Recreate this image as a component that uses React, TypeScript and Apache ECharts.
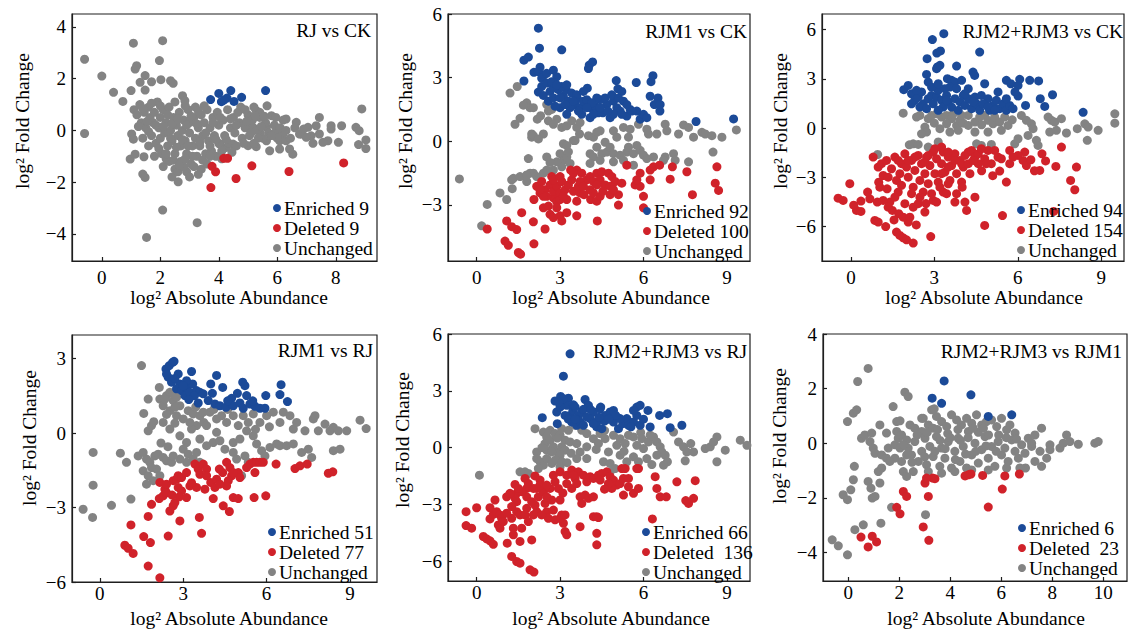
import React, { useEffect, useRef } from "react";
import * as echarts from "echarts";

const FONT = "Liberation Serif";
const BLUE = "#1b4a98";
const RED = "#d0222a";
const GRAY = "#838383";

// ---------- Panel titles / legend labels ----------
const titles = ["RJ vs CK", "RJM1 vs CK", "RJM2+RJM3 vs CK", "RJM1 vs RJ", "RJM2+RJM3 vs RJ", "RJM2+RJM3 vs RJM1"];
const enrichedLabels = ["Enriched 9", "Enriched 92", "Enriched 94", "Enriched 51", "Enriched 66", "Enriched 6"];
const deletedLabels = ["Deleted 9", "Deleted 100", "Deleted 154", "Deleted 77", "Deleted  136", "Deleted  23"];
const unchangedLabel = "Unchanged";

// ---------- Axis ticks ----------
const xTicks = [[0, 2, 4, 6, 8], [0, 3, 6, 9], [0, 3, 6, 9], [0, 3, 6, 9], [0, 3, 6, 9], [0, 2, 4, 6, 8, 10]];
const yTicks = [[-4, -2, 0, 2, 4], [-3, 0, 3, 6], [-6, -3, 0, 3, 6], [-6, -3, 0, 3], [-6, -3, 0, 3, 6], [-4, -2, 0, 2, 4]];
const xRanges = [[-1.02, 9.41], [-1.03, 9.83], [-1.04, 9.82], [-1.0, 9.97], [-1.03, 9.83], [-0.99, 10.93]];
const yRanges = [[-5.05, 4.5], [-5.65, 6], [-8.1, 6.95], [-6, 3.95], [-7.05, 6], [-5.05, 4]];

// ---------- Panel 1: RJ vs CK ----------
const p1Enriched = [[3.72,1.19],[4.0,1.43],[4.09,1.11],[4.41,1.54],[4.28,1.25],[4.52,1.12],[4.78,1.28],[5.6,1.54],[4.17,1.17]];
const p1Deleted = [[3.77,-1.39],[3.89,-1.6],[3.73,-2.21],[4.17,-1.08],[4.3,-1.08],[4.59,-1.86],[5.13,-1.37],[6.4,-1.59],[8.27,-1.26]];
const p1Unchanged = [
  [-0.59,2.75],[-0.59,-0.12],[0,2.1],[0.4,1.47],[0.72,1.12],[1.08,3.37],[2.08,3.47],[1.97,2.7],[1.14,2.37],[1.19,2.5],
  [1.31,1.86],[1.48,2.12],[1.7,1.88],[2.02,1.96],[2.44,1.82],[2.35,1.92],[1.0,1.54],[1.48,1.56],[1.02,-0.14],[1.08,-0.34],
  [0.97,-1.11],[1.14,-0.92],[1.44,-1.02],[1.4,-1.69],[1.48,-1.82],[2.61,-1.99],[2.08,-3.08],[3.26,-3.57],[1.53,-4.14],[2.76,1.34],
  [2.84,1.15],[5.65,0.95],[6.3,0.44],[6.65,0.31],[7.44,0.5],[8.89,0.83],[8.2,0.18],[8.69,0.12],[8.8,-0.01],[9.03,-0.37],
  [9.03,-0.7],[8.78,-0.55],[8.09,-0.46],[7.73,-0.4],[7.56,-0.46],[7.22,-0.5],[7.16,-0.21],[7.84,0.05],[7.84,0.18],[7.33,0.18],
  [7.05,0.12],[6.82,-0.14],[6.53,-0.92],[6.42,-0.72],[6.08,-0.72],[5.74,-0.79],[5.28,-0.63],[5.0,-0.59],[4.49,-0.53],[4.26,-0.66],
  [4.03,-0.53],[5.63,-0.4],[6.08,-0.4],[6.19,-0.14],[5.97,-0.01],[5.63,0.12],[5.4,-0.08],[5.17,0.12],[4.94,0.25],[5.28,0.76],
  [5.4,0.5],[5.8,0.57],[6.76,-0.14],[7.44,-0.14],[6.99,-0.27],[6.3,-0.4],
  [1.1,0.8],[1.2,0.6],[1.3,1.0],[1.35,0.3],[1.45,0.7],[1.5,0.1],[1.6,0.9],[1.65,0.5],[1.7,-0.2],[1.75,0.3],
  [1.8,0.7],[1.85,-0.5],[1.9,1.1],[1.95,0.1],[2.0,-0.3],[2.0,0.5],[2.05,-0.9],[2.1,0.8],[2.15,-0.1],[2.2,0.3],
  [2.25,-0.6],[2.3,-1.2],[2.3,0.9],[2.35,0.0],[2.4,-0.4],[2.45,0.5],[2.5,-0.9],[2.5,-1.5],[2.55,0.2],[2.6,-0.2],
  [2.65,0.7],[2.7,-0.6],[2.7,-1.2],[2.75,0.0],[2.8,0.4],[2.85,-0.4],[2.9,-0.9],[2.9,-1.6],[2.95,0.8],[3.0,-0.1],
  [3.0,0.3],[3.05,-1.3],[3.1,-0.6],[3.15,0.5],[3.2,-0.3],[3.2,0.9],[3.25,-1.0],[3.3,0.1],[3.35,-0.6],[3.4,-1.5],
  [3.4,0.6],[3.45,-0.2],[3.5,0.3],[3.55,-0.9],[3.6,-1.3],[3.6,0.8],[3.65,-0.4],[3.7,0.1],[3.75,-0.8],[3.8,0.5],
  [3.85,-0.2],[3.9,-1.0],[3.95,0.7],[4.0,-0.5],[4.0,0.2],[4.1,-0.8],[4.15,0.4],[4.2,-0.2],[4.3,0.8],[4.35,-0.5],
  [4.4,0.1],[4.5,0.5],[4.55,-0.1],[4.6,-0.6],[4.7,0.3],[4.75,0.9],[4.8,-0.3],[4.9,0.1],[5.0,0.6],[5.05,-0.2],
  [5.15,0.4],[5.2,-0.5],[5.3,0.0],[5.4,0.7],[5.5,-0.3],[5.6,0.3],[5.7,-0.1],[5.9,0.2],[6.0,-0.3],[6.1,0.1],
  [6.2,0.4],[1.6,-0.6],[1.4,-0.3],[1.8,-1.0],[2.1,-1.4],[2.4,-1.8],[2.6,-1.6],[2.2,-1.1],[2.8,-1.4],[3.3,-1.7],
  [3.0,-1.8],[1.25,0.15],[1.4,0.85],[1.55,0.35],[1.7,1.05],[1.85,0.2],[2.0,0.95],[2.1,0.15],[2.25,0.6],[2.4,0.25],
  [2.5,1.1],[2.6,0.45],[2.75,-0.35],[2.85,0.95],[2.95,-0.6],[3.05,0.55],[3.1,-1.0],[3.25,0.25],[3.35,-0.45],[3.5,0.95],
  [3.55,-0.1],[3.7,-0.6],[3.8,0.3],[3.9,-0.35],[4.05,0.5],[4.1,-1.1],[4.25,-0.35],[4.4,0.45],[4.45,-0.85],[4.6,0.2],
  [4.65,0.7],[4.85,-0.5],[4.95,0.35],[5.1,-0.1],[5.25,0.55],[5.35,-0.3],[5.45,0.15],[5.55,0.55],[5.8,-0.2],[5.95,0.5],
  [6.3,0.0],[6.45,-0.3],[6.6,0.1],[6.9,0.05],[2.2,-0.9],[2.45,-1.15],[2.65,-1.35],[2.85,-1.1],[3.15,-1.4],[3.45,-1.15],
  [3.7,-1.0],[2.55,-0.65],[2.35,-0.3],[1.95,-0.7],[1.6,-0.05],[2.9,0.2],[3.3,0.75],[4.9,0.8],[5.2,0.9]
];

// ---------- Panel 2: RJM1 vs CK ----------
const p2Enriched = [
  [2.22,5.33],[2.26,4.39],[3.06,4.31],[1.7,3.82],[1.86,3.97],[1.7,2.84],[2.06,3.25],[2.28,3.49],[2.22,3.28],[2.42,3.12],
  [2.34,2.97],[2.52,3.2],[2.76,3.35],[2.88,3.04],[4.05,3.59],[4.17,3.74],[4.02,3.43],[3.98,2.5],[5.02,2.86],[5.08,2.47],
  [5.74,2.77],[6.27,2.81],[6.34,3.09],[6.52,2.04],[6.39,1.73],[6.59,1.42],[6.6,1.73],[7.89,0.93],[9.24,1.05],
  [2.22,2.32],[2.4,2.16],[2.64,2.35],[2.76,2.53],[2.94,2.43],[3.0,1.58],[3.12,2.12],[3.22,2.43],[3.3,1.89],[3.42,2.27],
  [3.54,1.73],[3.62,2.01],[3.72,1.58],[3.84,1.89],[3.96,1.96],[4.08,1.58],[4.08,1.11],[4.26,1.65],[4.44,1.96],[4.54,1.34],
  [4.68,1.73],[4.8,1.11],[4.92,1.89],[5.04,1.58],[5.16,1.42],[5.28,1.89],[5.4,1.19],[5.52,1.5],[5.88,1.04],[6.0,1.27],
  [6.12,1.11],[6.24,2.12],[5.76,1.42],[2.58,1.89],[2.76,2.04],[3.06,2.58],[3.36,1.58],[3.24,1.27],[3.78,1.27],[4.38,1.34],
  [4.62,2.04],[4.86,2.19],[5.22,2.35],[5.1,2.04],[4.32,2.04],[4.14,1.81],[3.6,2.19],[3.48,1.89],[3.96,1.58],[4.92,1.27],
  [4.44,1.58],[4.72,1.42],[5.22,1.27],[3.0,2.04],[2.82,1.65],[3.18,1.73],[3.66,1.42],[4.2,1.27],[3.84,2.35],[5.4,1.73],
  [5.58,1.42],[2.34,2.58],[2.52,2.74],[2.7,2.81],[2.88,2.66],[3.24,2.66]
];
const p2Deleted = [
  [0.38,-4.14],[1.08,-3.76],[1.02,-4.71],[1.14,-4.91],[1.26,-4.03],[1.44,-4.17],[1.5,-5.25],[1.58,-5.33],[1.62,-3.37],[2.04,-3.8],
  [2.06,-4.84],[2.06,-2.75],[2.46,-4.14],[2.4,-3.14],[2.64,-3.45],[2.76,-2.67],[2.88,-2.86],[3.0,-2.75],[3.06,-3.76],[3.0,-3.52],
  [3.24,-3.37],[3.6,-3.52],[3.6,-2.83],[3.72,-2.44],[4.1,-2.75],[4.32,-2.83],[4.34,-3.76],[4.44,-2.6],[4.8,-2.52],[5.1,-3.01],
  [5.1,-2.52],[5.4,-1.13],[5.7,-2.06],[6.0,-2.6],[6.0,-3.14],[5.88,-1.51],[6.24,-1.36],[6.36,-1.21],[6.58,-1.13],[6.24,-1.82],
  [6.96,-1.79],[7.04,-1.21],[7.56,-1.44],[7.76,-2.52],[8.64,-1.21],[8.58,-1.98],[8.7,-2.32],[5.88,-2.13],
  [2.16,-2.13],[2.28,-2.44],[2.34,-1.9],[2.46,-2.29],[2.52,-2.6],[2.64,-2.06],[2.7,-1.67],[2.76,-2.36],[2.88,-2.13],[3.0,-2.44],
  [3.06,-1.9],[3.18,-2.29],[3.3,-2.06],[3.42,-1.82],[3.48,-2.36],[3.6,-1.36],[3.66,-2.13],[3.78,-1.51],[3.86,-2.52],[3.96,-1.82],
  [4.08,-1.67],[4.2,-1.9],[4.32,-1.51],[4.44,-1.82],[4.5,-1.44],[4.62,-2.06],[4.74,-1.51],[4.86,-1.67],[4.98,-1.9],[4.8,-2.13],
  [3.48,-1.51],[3.72,-1.9],[2.76,-1.82],[3.0,-1.67],[3.24,-2.75],[4.08,-2.29],[3.12,-2.6],[2.4,-2.6],[2.58,-3.06],[2.88,-3.14],
  [2.76,-3.6],[2.28,-2.29],[4.2,-2.44],[4.54,-2.36],[3.84,-2.13],[4.32,-2.06],[4.92,-2.29],[5.22,-1.98],[5.76,-1.82],[3.38,-1.36]
];
const p2Unchanged = [
  [-0.62,-1.78],[0.18,-3.99],[0.38,-2.98],[0.84,-2.44],[1.08,-2.75],[1.28,-2.24],[1.32,-1.75],[1.26,-1.82],[1.2,2.27],[1.46,2.58],
  [1.38,0.8],[1.56,1.08],[1.8,1.81],[1.92,1.58],[2.04,1.58],[1.98,0.34],[1.98,0.19],[2.18,1.04],[2.4,0.34],[2.52,1.73],
  [2.58,1.42],[2.88,1.04],[3.06,0.65],[3.24,0.73],[3.42,0.96],[3.6,0.65],[3.72,0.88],[3.7,0.34],[3.12,-0.12],[3.24,-0.2],
  [3.48,0.03],[4.2,0.19],[4.32,0.42],[4.44,0.49],[4.62,-0.05],[4.92,0.49],[5.04,0.19],[5.28,0.65],[5.46,0.19],[5.52,0.57],
  [5.82,0.8],[6.12,0.57],[6.18,0.34],[6.48,0.34],[6.78,0.8],[6.84,0.49],[7.26,0.34],[7.44,0.77],[7.62,0.65],[7.8,0.19],
  [8.1,0.42],[8.22,0.34],[8.46,0.26],[8.5,-0.51],[8.82,0.19],[9.34,0.53],[7.08,-0.59],[7.14,-0.9],[7.62,-0.97],[6.78,-0.74],
  [6.72,-0.9],[4.08,-0.59],[4.2,-0.74],[4.32,-0.28],[4.5,-0.59],[4.68,-0.51],[4.92,-0.59],[5.16,-0.66],[5.4,-0.51],[5.64,-0.59],
  [5.88,-0.43],[6.0,-0.66],[6.12,-0.82],[4.08,-1.05],[4.44,-0.9],[4.92,-0.97],[5.28,-0.9],[5.64,-1.13],[3.0,-0.59],[3.12,-0.9],
  [3.24,-0.74],[3.36,-1.05],[3.06,-1.21],[2.76,-1.36],[2.52,-1.36],[2.4,-1.51],[2.16,-1.67],[2.04,-1.51],[1.8,-1.9],[1.56,-1.67],
  [1.86,-0.82],[2.52,-0.74],[2.88,-0.97],[1.92,-1.51],[1.8,-1.59],[2.04,0.26],[2.22,0.11],[2.58,0.96],[2.76,0.8],[3.54,0.03],
  [4.02,0.26],[4.8,-0.28],[5.46,-0.28],[5.76,-0.2],[6.36,-0.74],[2.7,1.5],[1.68,1.7],[2.3,1.2],[3.3,-0.5],[2.64,-1.0]
];

// ---------- Panel 3: RJM2+RJM3 vs CK ----------
const p3Enriched = [
  [2.93,5.39],[3.34,5.75],[3.09,4.57],[3.22,4.7],[4.63,4.63],[2.74,4.23],[3.08,3.62],[3.2,3.82],[3.11,3.72],[3.8,3.78],
  [4.39,3.41],[4.45,3.21],[2.72,3.27],[1.9,2.34],[2.06,2.6],[2.78,2.8],[3.47,3.01],[3.62,2.91],[3.74,2.8],[3.56,2.5],
  [3.98,2.91],[4.81,2.7],[5.29,2.2],[5.59,2.91],[5.75,2.7],[6.07,2.97],[6.01,2.6],[6.43,2.91],[6.75,2.87],[6.01,1.95],
  [6.28,1.38],[6.81,1.79],[6.97,1.32],[7.25,2.03],[8.35,0.96],
  [2.18,2.09],[2.3,1.69],[2.42,1.89],[2.54,2.2],[2.6,1.48],[2.78,1.79],[2.9,1.99],[2.96,1.48],[3.08,1.89],[3.14,2.3],
  [3.26,1.69],[3.32,1.28],[3.44,1.99],[3.5,1.59],[3.62,1.28],[3.74,1.79],[3.8,2.4],[3.92,1.59],[4.04,1.99],[4.1,1.38],
  [4.22,1.79],[4.34,1.18],[4.46,1.89],[4.52,1.48],[4.63,1.08],[4.69,1.99],[4.81,1.48],[4.93,1.79],[4.99,1.08],[5.11,1.38],
  [5.23,1.69],[5.35,1.18],[5.47,1.48],[5.59,1.08],[5.71,1.38],[5.83,1.18],[5.59,1.79],[2.18,1.48],[2.48,1.28],[2.72,1.18],
  [3.14,1.08],[3.38,2.4],[4.22,2.4],[2.9,2.5],[3.14,2.7],[3.86,1.08],[4.75,1.48],[4.93,1.28],[5.17,1.08],[3.44,1.69],
  [4.4,1.59],[2.36,2.3],[4.1,2.09],[5.9,2.2]
];
const p3Deleted = [
  [-0.46,-4.27],[-0.28,-4.41],[-0.04,-3.39],[0.2,-5.02],[0.36,-5.08],[0.36,-4.45],[0.68,-4.31],[0.86,-5.63],[0.98,-5.73],[0.95,-4.51],
  [1.04,-3.6],[1.25,-6.0],[1.34,-4.82],[1.49,-5.02],[1.4,-4.51],[1.64,-6.34],[1.76,-6.54],[1.88,-6.69],[2.0,-6.81],[2.24,-7.01],
  [2.87,-6.61],[2.06,-5.73],[1.72,-5.22],[1.88,-5.43],[2.12,-5.43],[2.24,-4.82],[2.42,-4.61],[2.66,-5.12],[2.96,-4.41],[3.08,-4.51],
  [3.32,-3.9],[3.44,-4.0],[3.74,-4.51],[4.1,-4.51],[4.16,-5.02],[4.46,-4.21],[4.81,-5.93],[5.45,-5.33],[7.29,-5.08],[6.25,-1.46],
  [6.19,-1.97],[6.31,-2.28],[6.47,-1.93],[6.79,-2.58],[6.87,-1.57],[7.37,-2.34],[7.57,-1.16],[7.9,-3.19],[8.05,-3.76],[8.11,-2.38],
  [5.59,-3.29],[5.71,-1.36],[5.71,-2.17],[5.35,-2.62],[5.29,-1.77],[6.01,-1.67],[4.93,-1.36],[5.05,-2.17],
  [0.8,-1.77],[0.98,-2.38],[1.16,-2.89],[1.1,-2.17],[1.28,-1.97],[1.46,-2.48],[1.58,-1.77],[1.64,-3.19],[1.76,-2.78],[1.82,-2.17],
  [1.94,-1.57],[2.0,-2.38],[2.06,-2.99],[2.18,-1.97],[2.24,-3.6],[2.3,-2.58],[2.42,-1.67],[2.48,-3.19],[2.54,-2.17],[2.6,-3.9],
  [2.66,-2.78],[2.72,-1.77],[2.78,-3.39],[2.84,-2.28],[2.96,-1.46],[3.02,-2.78],[3.08,-1.87],[3.14,-3.29],[3.26,-2.17],[3.32,-1.46],
  [3.38,-2.68],[3.5,-1.77],[3.56,-3.19],[3.62,-2.28],[3.74,-1.57],[3.8,-2.78],[3.92,-1.97],[3.98,-3.29],[4.04,-2.38],[4.1,-1.67],
  [4.22,-1.46],[4.34,-1.36],[4.46,-1.77],[4.58,-1.57],[4.69,-1.26],[4.81,-1.87],[4.87,-2.17],[3.26,-2.78],[3.74,-1.97],[3.5,-2.38],
  [3.98,-2.17],[2.66,-2.07],[2.3,-1.77],[2.06,-1.97],[1.7,-1.97],[1.34,-2.99],[1.82,-3.49],[2.18,-4.0],[1.7,-3.9],[2.48,-4.21],
  [1.94,-4.61],[1.58,-4.21],[1.16,-4.41],[2.9,-4.0],[3.2,-3.6],[3.8,-4.0],[4.28,-2.78],[4.58,-2.17],[5.17,-1.36],[5.41,-1.87],
  [5.83,-1.77],[3.26,-1.16],[3.5,-1.46],[3.02,-1.26],[2.78,-1.67],[4.22,-2.17],[4.4,-1.97],[1.0,-3.3],[0.6,-3.9],[1.3,-3.7],
  [2.7,-4.6],[3.5,-3.4],[4.7,-2.6],[5.1,-2.9],[6.6,-2.6],[7.0,-2.0],[4.0,-3.6],[0.1,-4.7],[1.55,-5.6],[2.35,-5.9]
];
const p3Unchanged = [
  [0.96,-1.61],[1.88,0.91],[2.1,-1.02],[2.24,-0.96],[2.42,-1.0],[2.48,0.77],[2.66,0.06],[2.72,-0.24],[2.78,0.57],[2.9,0.77],
  [3.08,0.87],[3.26,0.67],[3.44,0.77],[3.62,0.57],[3.2,-0.04],[3.44,0.26],[3.56,-0.24],[2.78,-1.16],[3.14,-0.85],[3.8,0.16],
  [3.92,0.47],[4.04,0.3],[4.22,0.16],[3.86,-0.14],[4.46,0.37],[4.63,0.67],[4.81,0.77],[4.93,0.47],[5.11,0.26],[5.17,0.67],
  [5.35,0.37],[5.53,0.67],[5.65,0.16],[4.52,-0.96],[4.69,-1.06],[5.05,-1.0],[5.89,-0.96],[6.01,-0.65],[6.13,0.77],[6.31,0.47],
  [6.49,0.26],[6.37,-0.45],[6.55,-0.04],[6.67,-0.75],[6.73,-1.06],[7.09,0.67],[7.21,0.47],[7.33,0.37],[7.15,-0.24],[7.39,-0.14],
  [7.75,-0.3],[7.57,0.57],[8.14,-0.04],[8.41,0.26],[8.53,0.06],[8.5,-0.75],[8.89,-0.14],[9.49,0.87],[9.49,0.3],[4.22,0.77],
  [3.98,0.77],[3.68,0.87],[4.93,-0.24],[5.41,-0.14],[4.46,-0.24],[2.54,-0.35],[2.36,0.67],[3.0,0.3],[5.8,0.5],[4.7,0.2]
];

// ---------- Panel 4: RJM1 vs RJ ----------
const p4Enriched = [
  [2.38,2.58],[2.5,2.72],[2.62,2.85],[2.67,2.89],[2.46,2.25],[2.4,2.38],[2.58,2.05],[2.82,2.38],[2.88,1.98],[3.3,2.48],
  [2.76,1.78],[2.94,1.71],[3.06,1.51],[3.12,1.84],[3.24,1.64],[3.34,1.98],[3.48,1.71],[3.6,1.64],[3.72,1.58],[3.54,1.21],
  [3.99,1.98],[4.2,2.32],[4.42,1.84],[3.9,1.31],[4.14,1.17],[4.32,1.1],[4.54,1.04],[4.74,1.4],[4.8,1.1],[5.04,1.21],
  [5.16,1.0],[5.14,2.05],[5.22,1.91],[5.28,1.51],[5.4,1.17],[5.58,1.08],[5.76,1.0],[5.94,1.0],[5.97,1.51],[6.52,1.95],
  [6.48,1.55],[6.75,1.27],[3.12,2.11],[3.0,1.91],[3.4,1.5],[2.7,2.2],[4.6,1.3],[3.2,1.35],[4.05,1.6],[4.95,1.6],[5.5,1.3]
];
const p4Deleted = [
  [2.16,-5.83],[1.74,-5.36],[0.9,-4.52],[1.02,-4.64],[1.2,-4.85],[1.12,-3.7],[1.58,-4.17],[1.82,-4.41],[1.74,-3.36],[1.86,-2.87],
  [2.46,-4.15],[2.52,-3.14],[2.64,-2.93],[2.7,-2.8],[2.88,-3.54],[2.14,-2.64],[2.28,-2.53],[2.16,-1.99],[2.34,-2.26],[2.4,-2.4],
  [2.64,-1.92],[2.76,-1.86],[2.82,-1.72],[2.94,-1.79],[2.82,-2.19],[2.94,-2.33],[2.86,-2.57],[3.12,-2.6],[3.24,-2.13],[3.48,-2.19],
  [3.78,-2.26],[3.58,-3.4],[3.66,-4.04],[3.42,-1.25],[3.54,-1.45],[3.6,-1.66],[3.72,-1.25],[3.84,-1.45],[3.99,-1.99],[4.14,-2.19],
  [4.08,-2.64],[4.3,-1.45],[4.42,-1.59],[4.56,-1.18],[4.68,-1.39],[4.74,-1.72],[4.62,-1.92],[4.56,-2.13],[4.44,-2.93],[4.66,-3.16],
  [4.8,-2.6],[4.98,-2.64],[4.98,-1.59],[5.04,-1.79],[5.28,-1.39],[5.4,-1.25],[5.52,-1.18],[5.64,-1.18],[5.76,-1.18],[5.88,-1.18],
  [5.58,-1.59],[5.55,-2.6],[5.97,-2.53],[6.34,-1.25],[7.02,-1.43],[7.2,-1.32],[7.46,-1.25],[8.22,-1.62],[8.38,-1.56],[4.2,-1.86],
  [4.32,-2.06],[3.12,-1.59],[2.4,-2.06],[3.84,-1.72],[4.8,-1.59],[2.6,-2.5],[3.3,-2.0]
];
const p4Unchanged = [
  [1.5,2.72],[2.14,1.84],[1.74,1.37],[1.58,0.79],[1.74,0.09],[1.86,0.3],[1.94,0.46],[-0.24,-0.78],[0.74,-0.81],[0.96,-1.18],
  [-0.24,-2.1],[-0.6,-3.07],[-0.26,-3.4],[0.42,-2.91],[1.12,-2.66],[1.38,-0.92],[1.56,-0.78],[1.68,-1.05],[1.8,-1.18],[1.98,-0.92],
  [2.1,-0.85],[2.28,-0.98],[2.4,-1.12],[2.58,-1.18],[1.56,-1.52],[1.74,-1.72],[1.92,-1.92],[2.04,-1.45],[2.16,-1.72],[1.68,-2.06],
  [1.86,-1.39],[2.16,1.37],[2.28,1.1],[2.4,1.51],[2.52,0.9],[2.64,1.31],[2.76,0.7],[2.88,1.1],[3.0,0.57],[3.18,0.9],
  [3.36,0.77],[3.48,0.3],[3.6,0.7],[3.74,0.43],[3.96,0.84],[4.2,0.57],[4.38,0.7],[4.56,0.43],[4.8,0.7],[4.98,0.3],
  [5.16,0.7],[5.34,0.43],[5.52,0.77],[5.76,0.43],[6.0,0.7],[6.24,0.84],[6.48,0.43],[2.28,0.43],[2.52,0.16],[2.88,-0.11],
  [3.12,-0.38],[3.3,0.16],[3.6,-0.24],[3.84,-0.51],[4.08,-0.38],[4.32,-0.31],[4.5,-0.65],[4.8,-0.38],[5.04,-0.24],[5.28,0.09],
  [5.52,-0.11],[5.64,-0.44],[5.82,-0.71],[5.94,-0.92],[6.12,-0.58],[6.36,-0.44],[3.0,-0.65],[3.18,-0.85],[3.36,-1.05],[3.48,-0.78],
  [3.12,-1.18],[2.88,-1.05],[2.64,-0.92],[3.6,-1.18],[4.8,-0.78],[4.92,-1.05],[5.22,-0.92],[5.34,-1.18],[5.1,-1.72],[6.6,0.84],
  [6.84,0.7],[6.96,0.16],[7.08,0.43],[7.38,0.09],[7.68,0.57],[7.74,0.7],[7.86,0.09],[8.1,0.36],[8.28,0.09],[8.4,0.23],
  [8.58,0.09],[8.88,0.09],[9.36,0.52],[9.58,0.18],[6.48,-0.51],[6.72,-0.51],[6.96,-0.44],[7.26,-0.78],[7.5,-0.65],[7.62,-0.98],
  [8.4,-0.71],[8.64,-0.65],[2.34,1.37],[2.52,1.64],[2.64,1.58],[2.76,1.44],[2.7,1.04],[3.84,0.3],[4.2,0.03],[3.72,0.84],
  [3.24,0.43],[2.4,0.75],[2.7,0.4],[3.45,1.05],[4.6,0.95],[5.6,0.15],[6.1,0.25],[4.1,0.95],[2.2,-0.4],[2.45,-0.55]
];

// ---------- Panel 5: RJM2+RJM3 vs RJ ----------
const p5Enriched = [
  [3.36,4.95],[3.12,3.77],[2.36,1.58],[2.82,2.46],[2.88,1.88],[2.9,1.26],[3.02,2.7],[3.12,2.26],[3.3,2.61],[3.24,2.23],
  [3.36,1.7],[3.46,1.96],[3.42,1.35],[3.6,1.18],[3.72,1.35],[3.66,1.7],[3.78,1.88],[3.54,2.14],[3.48,2.26],[3.9,2.54],
  [4.02,2.23],[4.2,1.88],[4.08,1.53],[4.32,1.35],[4.44,2.05],[4.46,2.14],[4.62,1.7],[4.8,1.88],[4.92,1.96],[4.32,1.09],
  [4.5,1.0],[4.2,1.26],[5.1,1.0],[5.26,1.26],[5.4,1.53],[5.46,1.18],[5.64,1.35],[5.76,1.7],[5.76,2.14],[5.88,2.23],
  [5.64,1.96],[5.88,1.18],[6.16,1.96],[6.24,1.09],[6.58,1.7],[6.86,1.79],[6.96,1.05],[7.38,1.18],[3.84,2.02],[3.96,1.61],
  [4.92,1.35],[5.16,1.53],[3.84,1.18],[3.18,1.7],[3.12,2.58],[3.0,2.14],[4.6,1.4],[5.0,1.7],[3.3,1.5],[4.1,2.0],
  [5.55,1.1],[4.75,1.5],[6.0,1.5],[3.55,1.5],[4.4,1.6],[2.95,2.4]
];
const p5Deleted = [
  [-0.38,-3.39],[-0.38,-4.12],[-0.18,-4.26],[0.0,-3.18],[0.24,-4.7],[0.36,-4.82],[0.48,-4.93],[0.6,-5.11],[0.48,-3.77],[0.6,-3.53],
  [0.48,-3.18],[0.66,-2.77],[0.72,-3.39],[0.84,-3.56],[0.9,-3.74],[0.78,-4.09],[0.84,-4.26],[1.08,-2.6],[1.1,-5.05],[1.26,-3.74],
  [1.32,-4.26],[1.32,-4.61],[1.26,-5.75],[1.44,-6.02],[1.56,-6.11],[1.38,-1.95],[1.44,-2.42],[1.38,-2.68],[1.44,-3.39],[1.56,-3.56],
  [1.56,-4.96],[1.98,-4.88],[1.92,-6.46],[2.06,-6.58],[1.74,-1.63],[1.8,-2.16],[1.8,-2.6],[1.8,-3.21],[1.74,-3.56],[2.04,-3.56],
  [2.16,-3.39],[2.1,-3.04],[2.22,-2.6],[2.28,-1.72],[2.4,-2.33],[2.46,-2.95],[2.52,-3.39],[2.58,-3.74],[2.64,-2.16],[2.7,-2.77],
  [2.76,-3.3],[2.82,-1.81],[2.94,-2.16],[3.0,-2.77],[3.06,-3.56],[3.12,-4.0],[3.18,-4.44],[3.24,-4.61],[3.0,-3.74],[3.0,-1.28],
  [3.24,-1.46],[3.42,-1.19],[3.54,-1.63],[3.66,-1.28],[3.84,-1.46],[3.96,-1.81],[4.08,-1.54],[4.2,-1.63],[4.38,-1.46],[4.5,-1.37],
  [4.68,-1.28],[4.8,-1.54],[4.92,-1.72],[5.04,-1.98],[5.16,-1.9],[5.28,-1.63],[5.46,-1.63],[5.22,-1.11],[5.34,-1.11],[5.76,-1.11],
  [5.82,-1.11],[3.42,-2.16],[3.6,-1.9],[3.72,-2.6],[3.78,-2.95],[3.9,-2.51],[4.02,-2.68],[4.2,-2.6],[3.72,-4.18],[4.2,-3.65],
  [4.32,-3.65],[4.38,-3.7],[4.32,-4.53],[4.32,-5.14],[5.28,-2.51],[5.64,-2.42],[5.82,-2.16],[6.32,-3.77],[6.42,-1.54],[6.48,-2.16],
  [6.6,-2.6],[6.82,-2.6],[7.2,-1.81],[7.62,-2.95],[7.8,-2.68],[7.86,-1.75],[7.52,-2.8],[2.28,-1.98],[2.52,-1.98],[2.76,-1.46],
  [3.24,-1.9],[3.48,-1.46],[2.16,-2.16],[2.52,-2.6],[1.98,-2.86],[1.86,-1.9],[1.62,-2.33],[1.44,-2.86],[2.04,-2.16],[1.5,-2.16],
  [1.2,-2.42],[4.86,-2.16],[4.74,-1.9],[4.44,-1.72],[5.46,-2.07],[1.26,-3.12],[1.08,-3.47],[0.96,-3.91],[1.62,-4.26],[1.86,-3.91],
  [2.34,-3.56],[2.82,-3.82],[3.18,-3.56],[2.1,-1.5],[3.1,-2.4],[4.6,-2.2]
];
const p5Unchanged = [
  [0.1,-1.46],[1.56,-1.28],[1.74,-1.28],[1.86,-1.37],[2.1,1.0],[2.4,0.82],[2.52,0.56],[2.64,0.91],[2.82,0.74],[3.0,0.65],
  [3.06,1.0],[3.18,0.39],[3.3,0.91],[3.54,1.18],[2.46,0.21],[2.64,0.39],[2.76,0.04],[2.88,-0.23],[3.06,0.04],[3.18,-0.14],
  [3.36,0.3],[3.6,0.21],[2.52,-0.14],[2.7,-0.23],[3.0,-0.4],[2.16,-0.23],[2.16,-0.58],[2.28,-0.75],[2.4,-0.93],[2.52,-0.58],
  [2.7,-0.84],[2.82,-0.67],[3.0,-1.02],[2.22,-1.11],[3.06,-0.75],[3.78,0.91],[3.96,0.74],[4.2,0.47],[4.38,0.21],[4.44,0.74],
  [4.62,0.47],[4.74,-0.23],[4.92,0.65],[5.04,0.12],[5.16,0.47],[5.34,0.21],[5.46,0.65],[5.64,0.56],[5.76,0.12],[5.94,0.47],
  [6.0,-0.05],[6.18,0.3],[6.24,0.65],[6.36,0.56],[6.48,0.3],[6.6,0.04],[6.66,-0.23],[6.78,-0.4],[6.86,-0.75],[3.96,-0.58],
  [4.56,-0.75],[4.8,-0.84],[5.16,-0.4],[5.4,-0.75],[5.64,-0.49],[5.82,-0.75],[6.12,-0.58],[6.48,-0.4],[6.72,-0.93],[7.08,0.82],
  [7.26,0.3],[7.44,0.04],[7.56,-0.23],[7.7,0.21],[7.5,-0.7],[7.8,-0.23],[8.22,-0.05],[8.4,0.04],[8.52,0.3],[8.64,0.56],
  [8.64,-0.75],[8.94,-0.14],[9.48,0.39],[9.72,0.12],[3.96,0.04],[3.72,-0.23],[3.6,-0.58],[4.8,-1.28],[4.98,-1.11],[2.9,0.5],
  [3.4,-0.3],[4.3,-0.1],[5.3,-0.2],[2.35,0.0],[4.6,0.9],[5.9,0.8],[3.25,-0.8],[6.3,-0.9]
];

// ---------- Panel 6: RJM2+RJM3 vs RJM1 ----------
const p6Enriched = [[3.29,1.65],[3.66,1.46],[3.76,2.28],[4.81,1.77],[5.49,0.98],[6.41,1.04]];
const p6Deleted = [
  [0.5,-3.44],[0.78,-3.8],[0.94,-3.41],[1.11,-3.62],[1.9,-2.35],[2.03,-2.59],[2.16,-1.77],[2.29,-1.95],[3.01,-1.46],[3.14,-1.95],
  [2.94,-3.07],[3.16,-3.56],[3.31,-1.28],[3.4,-1.3],[4.58,-1.2],[4.71,-1.16],[4.81,-1.13],[5.27,-1.18],[5.49,-2.34],[6.04,-1.68],
  [6.14,-1.2],[6.71,-1.13],[3.07,-1.28]
];
const p6Unchanged = [
  [0.78,2.74],[0.37,2.26],[0.2,1.1],[0.33,1.22],[-0.03,0.79],[0.24,-0.85],[0.2,-1.34],[0.1,-1.71],[-0.2,-1.89],[-0.03,-2.07],
  [0.26,-3.17],[0.59,-2.99],[-0.63,-3.54],[-0.39,-3.76],[-0.03,-4.09],[1.28,-2.93],[1.7,-2.35],[3.03,-2.62],[0.78,-1.4],[0.89,-1.65],
  [0.94,-2.01],[1.05,-1.95],[1.18,-1.04],[1.31,-0.91],[1.24,-1.46],[1.76,1.34],[1.9,0.79],[2.03,0.82],[2.22,1.87],[2.35,1.71],
  [1.24,0.67],[1.5,0.37],[1.9,0.43],[0.52,0.18],[0.65,0.3],[0.85,0.06],[0.98,-0.18],[1.05,-0.37],[1.31,-0.43],[1.5,-0.55],
  [1.57,-0.18],[1.83,-0.06],[2.03,-0.18],[0.92,0.37],[1.96,0.18],[2.09,0.3],[2.29,0.12],[2.42,0.67],[2.61,0.55],[2.88,0.43],
  [2.94,0.91],[3.14,0.67],[3.33,0.55],[3.46,0.98],[3.66,0.79],[3.86,0.61],[4.05,1.04],[4.25,0.85],[4.44,0.67],[4.64,0.91],
  [4.84,0.73],[5.03,1.04],[5.23,0.67],[5.42,0.79],[5.62,0.85],[5.82,0.61],[6.01,0.91],[6.21,0.49],[6.34,0.67],[6.54,0.37],
  [2.35,-0.18],[2.48,-0.43],[2.61,0.06],[2.75,-0.67],[2.88,-0.3],[3.01,0.18],[3.07,-0.79],[3.2,-0.12],[3.33,-0.49],[3.46,0.24],
  [3.59,-0.85],[3.66,-0.18],[3.79,-0.55],[3.92,0.06],[4.05,-0.91],[4.18,-0.3],[4.31,0.18],[4.38,-0.67],[4.51,-0.12],[4.64,-0.91],
  [4.71,0.43],[4.84,-0.43],[4.97,0.0],[5.1,-0.73],[5.23,-0.24],[5.36,0.24],[5.49,-0.55],[5.62,-0.12],[5.75,-0.85],[5.88,0.06],
  [6.01,-0.43],[6.14,-0.18],[6.27,-0.67],[6.41,0.12],[6.54,-0.3],[6.67,-0.55],[6.8,-0.06],[6.93,-0.37],[7.06,0.18],[7.19,-0.12],
  [7.32,-0.67],[2.55,-1.04],[3.14,-1.04],[3.66,-1.1],[4.18,-1.04],[4.84,-0.98],[5.49,-0.98],[6.21,-0.91],[2.16,-0.06],[2.29,-0.43],
  [2.09,-0.67],[1.83,-0.55],[1.63,-0.67],[2.16,-1.04],[2.29,-1.22],[7.19,0.0],[7.32,0.3],[7.58,0.55],[7.52,-0.3],[7.58,-0.85],
  [7.78,-0.55],[7.91,-0.06],[7.91,-0.24],[8.3,-0.18],[8.43,0.0],[8.56,0.3],[8.69,0.06],[9.02,-0.04],[9.67,0.0],[9.8,0.06],
  [6.95,-0.91],[6.73,-0.91],[2.88,0.91],[3.27,1.22],[3.37,1.26],[2.7,0.3],[3.1,0.4],[3.5,0.5],[3.9,0.35],[4.3,0.5],
  [4.7,0.2],[5.1,0.4],[5.5,0.3],[5.9,0.3],[3.0,-0.5],[3.4,-0.3],[3.8,-0.2],[4.2,-0.6],[4.6,-0.4],[5.0,-0.3],
  [5.4,-0.1],[5.8,-0.3],[6.2,0.2],[4.0,0.2],[4.4,0.1],[3.6,0.1],[2.5,-0.7],[5.3,0.55],[6.6,0.15],[4.9,0.55]
];

// ---------- Panel layout (positions only) ----------
const gridBoxes = [
  { left: 72, top: 14, width: 305, height: 247 },
  { left: 448, top: 14, width: 302, height: 247 },
  { left: 822, top: 14, width: 302, height: 247 },
  { left: 72, top: 335, width: 305, height: 247 },
  { left: 448, top: 334, width: 302, height: 247 },
  { left: 823, top: 334, width: 304, height: 247 },
];
const titlePos = [
  { right: 760, top: 20 }, { right: 384, top: 21 }, { right: 8, top: 21 },
  { right: 758, top: 340 }, { right: 384, top: 341 }, { right: 9, top: 341 },
];
const legendPos = [
  { left: 273, top: 198 }, { left: 643, top: 201 }, { left: 1017, top: 200 },
  { left: 268, top: 522 }, { left: 642, top: 522 }, { left: 1018, top: 518 },
];
const xNamePos = [[229, 297], [611, 297], [984, 297], [229, 618], [611, 618], [986, 618]];
const yNamePos = [[22, 121], [405, 121], [780, 121], [29, 438], [402, 440], [779, 436]];
const xLabelMargin = [7, 7, 7, 2, 2, 2];

const panels = [
  { e: p1Enriched, d: p1Deleted, u: p1Unchanged },
  { e: p2Enriched, d: p2Deleted, u: p2Unchanged },
  { e: p3Enriched, d: p3Deleted, u: p3Unchanged },
  { e: p4Enriched, d: p4Deleted, u: p4Unchanged },
  { e: p5Enriched, d: p5Deleted, u: p5Unchanged },
  { e: p6Enriched, d: p6Deleted, u: p6Unchanged },
];

const fmt = (v: number) => String(v).replace("-", "\u2212");

function buildOption() {
  const grid: any[] = [];
  const xAxis: any[] = [];
  const yAxis: any[] = [];
  const series: any[] = [];
  const legend: any[] = [];
  const title: any[] = [];
  const graphic: any[] = [];
  const axisColor = "#1e1e1e";

  panels.forEach((p, i) => {
    grid.push({ ...gridBoxes[i], show: true, borderColor: axisColor, borderWidth: 1.2, containLabel: false });
    xAxis.push({
      gridIndex: i, type: "value", min: xRanges[i][0], max: xRanges[i][1],
      axisLine: { show: true, onZero: false, lineStyle: { color: axisColor, width: 1.2 } },
      axisTick: { show: true, inside: true, length: 4, customValues: xTicks[i], lineStyle: { color: axisColor, width: 1.2 } },
      axisLabel: { customValues: xTicks[i], formatter: fmt, color: "#000", fontSize: 19, fontFamily: FONT, margin: xLabelMargin[i] },
      splitLine: { show: false },
    });
    yAxis.push({
      gridIndex: i, type: "value", min: yRanges[i][0], max: yRanges[i][1],
      axisLine: { show: true, onZero: false, lineStyle: { color: axisColor, width: 1.2 } },
      axisTick: { show: true, inside: true, length: 4, customValues: yTicks[i], lineStyle: { color: axisColor, width: 1.2 } },
      axisLabel: { customValues: yTicks[i], formatter: fmt, color: "#000", fontSize: 19, fontFamily: FONT, margin: 6 },
      splitLine: { show: false },
    });
    const common = { type: "scatter", xAxisIndex: i, yAxisIndex: i, symbol: "circle", symbolSize: 9, silent: true };
    series.push({ ...common, name: unchangedLabel, data: p.u, itemStyle: { color: GRAY, opacity: 1 } });
    series.push({ ...common, name: deletedLabels[i], data: p.d, itemStyle: { color: RED, opacity: 1 } });
    series.push({ ...common, name: enrichedLabels[i], data: p.e, itemStyle: { color: BLUE, opacity: 1 } });
    legend.push({
      ...legendPos[i], orient: "vertical", padding: 0, itemGap: 0, itemWidth: 8, itemHeight: 8,
      icon: "circle", selectedMode: false,
      data: [enrichedLabels[i], deletedLabels[i], unchangedLabel],
      textStyle: { fontSize: 19.5, fontFamily: FONT, color: "#000", lineHeight: 19, padding: [0, 0, 0, -2] },
    });
    title.push({
      text: titles[i], ...titlePos[i], padding: 0,
      textStyle: { fontSize: 19.5, fontFamily: FONT, fontWeight: "normal", color: "#000", lineHeight: 20 },
    });
    graphic.push({
      type: "text", x: xNamePos[i][0], y: xNamePos[i][1], silent: true,
      style: {
        text: "log\u00b2 Absolute Abundance", fontSize: 19.5, fontFamily: FONT, fill: "#000",
        align: "center", verticalAlign: "middle", textAlign: "center", textVerticalAlign: "middle",
      },
    });
    graphic.push({
      type: "text", x: yNamePos[i][0], y: yNamePos[i][1], rotation: Math.PI / 2, silent: true,
      style: {
        text: "log\u00b2 Fold Change", fontSize: 19.5, fontFamily: FONT, fill: "#000",
        align: "center", verticalAlign: "middle", textAlign: "center", textVerticalAlign: "middle",
      },
    });
  });

  return { animation: false, backgroundColor: "#fff", grid, xAxis, yAxis, series, legend, title, graphic };
}

export default function App() {
  const ref = useRef<HTMLDivElement>(null);
  useEffect(() => {
    if (!ref.current) return;
    const chart = echarts.init(ref.current, undefined, { renderer: "svg" });
    chart.setOption(buildOption() as any);
    return () => chart.dispose();
  }, []);
  return (
    <div
      ref={ref}
      style={{ position: "absolute", left: 0, top: 0, width: 1131, height: 630, background: "#fff" }}
    />
  );
}
